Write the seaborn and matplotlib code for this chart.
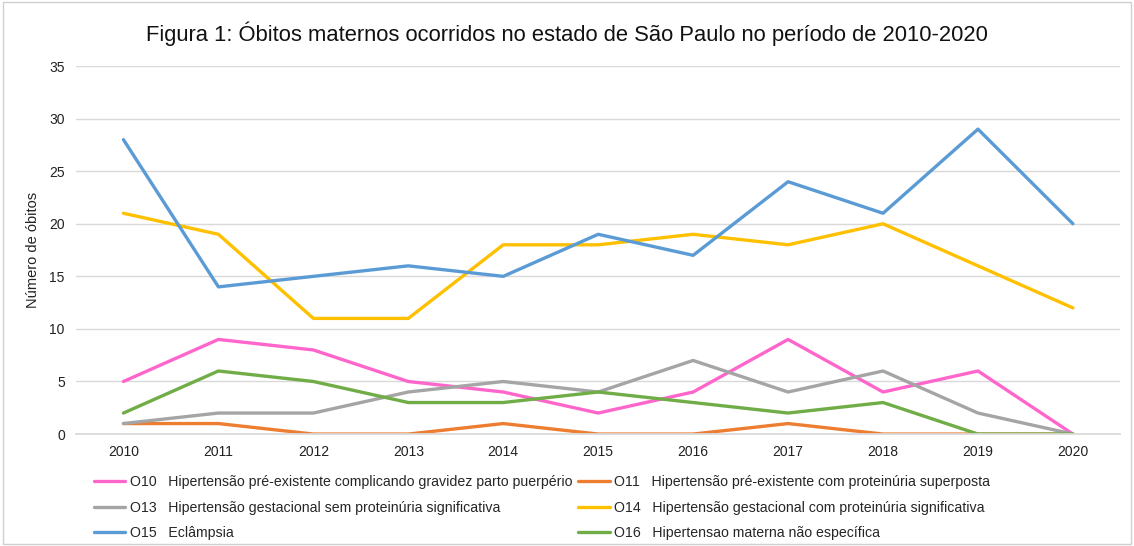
import pandas as pd
import seaborn as sns
import matplotlib.pyplot as plt
from matplotlib.patches import Rectangle

years = ['2010', '2011', '2012', '2013', '2014', '2015', '2016', '2017', '2018', '2019', '2020']
o10 = [5, 9, 8, 5, 4, 2, 4, 9, 4, 6, 0]
o11 = [1, 1, 0, 0, 1, 0, 0, 1, 0, 0, 0]
o13 = [1, 2, 2, 4, 5, 4, 7, 4, 6, 2, 0]
o14 = [21, 19, 11, 11, 18, 18, 19, 18, 20, 16, 12]
o15 = [28, 14, 15, 16, 15, 19, 17, 24, 21, 29, 20]
o16 = [2, 6, 5, 3, 3, 4, 3, 2, 3, 0, 0]

labels = [
    'O10   Hipertensão pré-existente complicando gravidez parto puerpério',
    'O11   Hipertensão pré-existente com proteinúria superposta',
    'O13   Hipertensão gestacional sem proteinúria significativa',
    'O14   Hipertensão gestacional com proteinúria significativa',
    'O15   Eclâmpsia',
    'O16   Hipertensao materna não específica',
]
colors = ['#FF66CC', '#ED7D31', '#A5A5A5', '#FFC000', '#5B9BD5', '#70AD47']


def main():
    sns.set_theme(style='white')
    plt.rcParams['font.family'] = ['Liberation Sans', 'DejaVu Sans']

    series = [o10, o11, o13, o14, o15, o16]
    df = pd.concat([
        pd.DataFrame({'ano': list(range(len(years))), 'obitos': vals, 'causa': lab})
        for vals, lab in zip(series, labels)
    ])

    fig = plt.figure(figsize=(11.34, 5.46), dpi=100)
    ax = fig.add_axes([0.067, 0.205, 0.921, 0.674])
    sns.lineplot(data=df, x='ano', y='obitos', hue='causa', hue_order=labels,
                 palette=colors, linewidth=2.4, ax=ax)

    ax.set_xlim(-0.5, len(years) - 0.5)
    ax.set_ylim(0, 35)
    ax.set_yticks(range(0, 36, 5))
    ax.set_xticks(range(len(years)))
    ax.set_xticklabels(years)
    ax.tick_params(axis='both', labelsize=10, colors='#222222', length=0, pad=8)
    ax.yaxis.grid(True, color='#D9D9D9', linewidth=1)
    ax.set_axisbelow(True)
    for s in ['top', 'right', 'left']:
        ax.spines[s].set_visible(False)
    ax.spines['bottom'].set_color('#D9D9D9')
    ax.set_xlabel('')
    ax.set_ylabel('Número de óbitos', fontsize=10.5, color='#222222', labelpad=7)

    fig.suptitle('Figura 1: Óbitos maternos ocorridos no estado de São Paulo no período de 2010-2020',
                 fontsize=15.8, y=0.96, color='#111111')

    # row-wise order like the original legend
    handles, labs = ax.get_legend_handles_labels()
    order = [0, 2, 4, 1, 3, 5]
    ax.legend([handles[i] for i in order], [labs[i] for i in order],
              loc='upper left', bbox_to_anchor=(0.012, -0.097), ncol=2,
              frameon=False, fontsize=10.2, handlelength=2.2, handletextpad=0.3,
              columnspacing=0.45, labelspacing=0.8, borderaxespad=0)

    fig.patches.append(Rectangle((0.003, 0.003), 0.994, 0.994, transform=fig.transFigure,
                                 fill=False, edgecolor='#D0D0D0', linewidth=1))

    fig.savefig('out.png', dpi=100)


if __name__ == '__main__':
    main()
